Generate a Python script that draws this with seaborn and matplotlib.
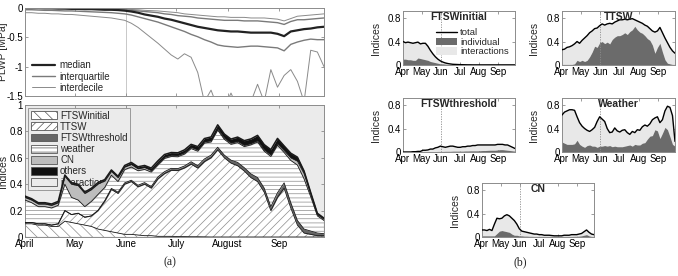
"""Sensitivity indices of the water-stress model: PLWP envelope (a) and total vs. individual indices (b)."""

import matplotlib

matplotlib.use("Agg")
import matplotlib.pyplot as plt
import numpy as np
import pandas as pd
import seaborn as sns
from matplotlib.lines import Line2D
from matplotlib.patches import Patch

# one sample every 4 days from 1 April to 28 September
DATES = pd.date_range("2011-04-01", periods=46, freq="4D")
MONTH_STARTS = pd.date_range("2011-04-01", periods=6, freq="MS")
JUNE = pd.Timestamp("2011-06-01")
MAIN_MONTHS = ["April", "May", "June", "July", "August", "Sep"]
SHORT_MONTHS = ["Apr", "May", "Jun", "Jul", "Aug", "Sep"]

# ---- (a) top: predawn leaf water potential percentiles [MPa]
plwp_p90 = [0, 0, 0, 0, 0, 0, 0, -.005, -.005, -.01, -.01, -.01, -.015, -.015, -.02, -.02,
            -.025, -.03, -.04, -.045, -.05, -.06, -.07, -.08, -.10, -.11, -.12, -.13, -.14, -.15,
            -.15, -.16, -.16, -.16, -.17, -.17, -.17, -.18, -.19, -.22, -.18, -.14, -.13, -.12, -.11, -.10]
plwp_p75 = [0, 0, 0, 0, -.005, -.005, -.01, -.01, -.01, -.015, -.015, -.02, -.02, -.025, -.025, -.03,
            -.04, -.05, -.06, -.07, -.08, -.10, -.11, -.13, -.14, -.15, -.17, -.18, -.19, -.20,
            -.21, -.21, -.21, -.22, -.22, -.22, -.23, -.24, -.25, -.28, -.23, -.20, -.20, -.19, -.18, -.17]
plwp_p50 = [0, 0, 0, -.005, -.005, -.01, -.01, -.015, -.015, -.02, -.02, -.025, -.03, -.03, -.035, -.045,
            -.06, -.08, -.11, -.13, -.15, -.18, -.20, -.23, -.26, -.29, -.32, -.34, -.36, -.38,
            -.39, -.40, -.40, -.41, -.42, -.42, -.42, -.42, -.44, -.48, -.40, -.38, -.36, -.35, -.33, -.32]
plwp_p25 = [-.03, -.03, -.035, -.04, -.04, -.045, -.05, -.05, -.055, -.06, -.065, -.07, -.075, -.08, -.09, -.10,
            -.12, -.15, -.18, -.21, -.24, -.28, -.32, -.36, -.40, -.45, -.49, -.54, -.58, -.63,
            -.65, -.66, -.67, -.66, -.65, -.65, -.66, -.67, -.68, -.73, -.62, -.58, -.55, -.53, -.54, -.54]
plwp_p10 = [-.08, -.08, -.09, -.09, -.10, -.10, -.11, -.11, -.12, -.13, -.14, -.15, -.16, -.17, -.19, -.21,
            -.26, -.33, -.42, -.51, -.60, -.70, -.80, -.87, -.78, -.84, -1.10, -1.60, -1.40, -1.70,
            -1.70, -1.45, -1.70, -1.70, -1.60, -1.30, -1.60, -1.05, -1.35, -1.15, -1.05, -1.25, -1.60, -0.72, -0.75, -1.00]

# ---- (a) bottom: first-order indices (interactions fill the rest up to 1)
s_ftsw_initial = [.10, .10, .09, .09, .08, .08, .12, .11, .10, .09, .08, .06, .05, .04, .03, .02,
                  .02, .015, .01, .01, .005, .005, .005, .003, .003, .002, .002, .001, 0, 0,
                  0, 0, 0, 0, 0, 0, 0, 0, 0, 0, 0, 0, 0, 0, 0, 0]
s_ttsw = [.01, .01, .01, .01, .01, .02, .08, .06, .08, .06, .08, .14, .22, .32, .30, .38,
          .40, .365, .39, .36, .435, .475, .50, .50, .52, .55, .52, .57, .60, .66,
          .60, .56, .54, .50, .45, .42, .34, .20, .30, .37, .22, .09, .03, .02, .01, .01]
s_ftsw_threshold = [0, 0, 0, 0, 0, 0, 0, 0, 0, 0, 0, .003, .005, .008, .01, .01,
                    .01, .012, .012, .012, .015, .015, .015, .015, .015, .018, .018, .02, .02, .02,
                    .02, .022, .025, .025, .028, .03, .03, .03, .035, .04, .04, .035, .03, .025, .02, .015]
s_weather = [.17, .15, .13, .13, .13, .14, .20, .13, .10, .08, .11, .12, .10, .10, .08, .10,
             .10, .11, .10, .11, .09, .10, .09, .09, .09, .10, .11, .12, .10, .13,
             .12, .12, .15, .16, .22, .27, .28, .38, .36, .23, .32, .42, .38, .26, .13, .10]
s_cn = [.02, .02, .02, .02, .02, .02, .06, .10, .11, .10, .09, .08, .05, .03, .03, .02,
        .02, .015, .015, .012, .012, .01, .01, .01, .01, .01, .01, .01, .01, .01,
        .01, .01, .01, .01, .01, .01, .01, .012, .012, .015, .02, .03, .04, .02, .01, .01]
s_others = [.01, .01, .01, .01, .01, .01, .01, .01, .01, .01, .01, .01, .01, .01, .01, .012,
            .015, .015, .015, .018, .02, .02, .02, .02, .022, .022, .025, .025, .028, .03,
            .03, .03, .032, .035, .035, .04, .04, .04, .04, .035, .035, .03, .02, .012, .01, .008]

# ---- (b) total-effect indices
st_ftsw_initial = [.40, .38, .39, .38, .37, .38, .39, .36, .37, .37, .32, .25, .19, .14, .10, .07,
                   .05, .035, .025, .018, .012, .01, .008, .006, .005, .004, .003, .003, .002, .002,
                   .002, .002, .002, .002, .002, .002, .002, .002, .002, .002, .002, .002, .002, .002, .002, .002]
st_ttsw = [.26, .27, .30, .31, .33, .36, .40, .37, .42, .46, .50, .55, .58, .62, .63, .67,
           .70, .68, .70, .71, .70, .73, .75, .77, .77, .78, .77, .78, .79, .77,
           .75, .73, .71, .68, .66, .62, .58, .56, .58, .64, .55, .46, .38, .30, .24, .20]
st_ftsw_threshold = [0, 0, 0, 0, .005, .005, .01, .01, .03, .03, .035, .05, .05, .07, .08, .10,
                     .09, .08, .09, .10, .10, .09, .08, .08, .09, .09, .10, .10, .11, .11,
                     .12, .12, .12, .12, .12, .12, .12, .12, .13, .13, .13, .12, .12, .10, .08, .06]
st_weather = [.63, .68, .70, .72, .72, .71, .60, .50, .44, .40, .37, .35, .38, .42, .52, .60,
              .56, .52, .40, .33, .34, .41, .36, .34, .37, .38, .33, .30, .35, .33,
              .38, .37, .43, .46, .44, .48, .55, .58, .60, .50, .55, .70, .78, .76, .62, .18]
st_cn = [.12, .12, .11, .13, .11, .22, .32, .31, .32, .36, .38, .36, .32, .28, .22, .14,
         .10, .09, .08, .07, .06, .05, .05, .04, .04, .03, .03, .03, .025, .02,
         .02, .02, .02, .03, .03, .03, .04, .04, .04, .05, .06, .09, .12, .08, .05, .04]

LAYER_NAMES = ["FTSWinitial", "TTSW", "FTSWthreshold", "weather", "CN", "others", "interactions"]
LAYER_COLORS = ["white", "white", "#666666", "white", "#bdbdbd", "#111111", "#ebebeb"]
LAYER_HATCHES = ["\\\\\\", "////", None, "----", None, None, None]

PANELS = [
    ("FTSWinitial", s_ftsw_initial, st_ftsw_initial),
    ("TTSW", s_ttsw, st_ttsw),
    ("FTSWthreshold", s_ftsw_threshold, st_ftsw_threshold),
    ("Weather", s_weather, st_weather),
    ("CN", s_cn, st_cn),
]

W, H = 678, 276
INDIVIDUAL = "#6b6b6b"
INTERACT = "#e8e8e8"
HATCH_GRAY = "#8c8c8c"


def px_axes(fig, left, top, right, bottom):
    """Add axes from pixel edges of the original figure."""
    return fig.add_axes([left / W, 1 - bottom / H, (right - left) / W, (bottom - top) / H])


def month_axis(ax, labels):
    ax.set_xlim(DATES[0], DATES[-1])
    ax.set_xticks(MONTH_STARTS)
    ax.set_xticklabels(labels)
    ax.tick_params(direction="in", top=True, right=True, length=2.5, width=0.6, pad=1.5)
    ax.set_xlabel("")


def plot_plwp(ax):
    lines = [
        (plwp_p90, "#8a8a8a", 0.7),
        (plwp_p10, "#8a8a8a", 0.7),
        (plwp_p75, "#7a7a7a", 1.0),
        (plwp_p25, "#7a7a7a", 1.0),
        (plwp_p50, "#222222", 1.6),
    ]
    for values, color, lw in lines:
        sns.lineplot(x=DATES, y=values, ax=ax, color=color, lw=lw)
    ax.axvline(JUNE, color="#c8c8c8", lw=0.7, zorder=0)
    ax.set_ylim(-1.5, 0)
    ax.set_yticks([0, -0.5, -1, -1.5])
    ax.set_yticklabels(["0", "-0.5", "-1", "-1.5"])
    month_axis(ax, [""] * 6)
    ax.set_ylabel("PLWP [MPa]")
    ax.yaxis.set_label_coords(-0.058, 0.5)
    handles = [
        Line2D([], [], color="#222222", lw=1.6),
        Line2D([], [], color="#7a7a7a", lw=1.0),
        Line2D([], [], color="#8a8a8a", lw=0.7),
    ]
    ax.legend(handles, ["median", "interquartile", "interdecile"], loc="lower left",
              bbox_to_anchor=(0.0, -0.04), frameon=False, handlelength=2.4,
              handletextpad=0.4, labelspacing=0.12, borderaxespad=0.3)


def plot_stack(ax):
    layers = [s_ftsw_initial, s_ttsw, s_ftsw_threshold, s_weather, s_cn, s_others]
    stacked = np.vstack(layers)
    ax.set_facecolor(LAYER_COLORS[-1])
    ax.axvline(JUNE, color="#c8c8c8", lw=0.7, zorder=0.5)
    ax.stackplot(DATES, stacked, colors=LAYER_COLORS[:-1], hatch=LAYER_HATCHES[:-1],
                 edgecolor=HATCH_GRAY, linewidth=0.1, zorder=2)
    tops = np.cumsum(stacked, axis=0)
    for k, top in enumerate(tops):
        lw = 1.1 if k == len(tops) - 1 else 0.6
        ax.plot(DATES, top, color="#1a1a1a", lw=lw, zorder=3)
    ax.set_ylim(0, 1)
    ax.set_yticks([0, 0.2, 0.4, 0.6, 0.8, 1])
    ax.set_yticklabels(["0", "0.2", "0.4", "0.6", "0.8", "1"])
    month_axis(ax, MAIN_MONTHS)
    ax.set_ylabel("Indices")
    ax.yaxis.set_label_coords(-0.058, 0.5)
    handles = [Patch(facecolor=c, hatch=h, edgecolor="#555555", lw=0.6)
               for c, h in zip(LAYER_COLORS, LAYER_HATCHES)]
    leg = ax.legend(handles, LAYER_NAMES, loc="upper left", bbox_to_anchor=(0.005, 0.995),
                    fancybox=False, framealpha=1, facecolor=LAYER_COLORS[-1], edgecolor="#8c8c8c",
                    handlelength=2.6, handleheight=0.85, handletextpad=0.35, labelspacing=0.12,
                    borderpad=0.3, borderaxespad=0.2)
    leg.get_frame().set_linewidth(0.6)
    leg.set_zorder(1)


def plot_panel(ax, title, individual, total, show_legend=False):
    ax.fill_between(DATES, individual, total, color=INTERACT, lw=0, zorder=1)
    ax.fill_between(DATES, 0, individual, color=INDIVIDUAL, lw=0, zorder=1.5)
    sns.lineplot(x=DATES, y=total, ax=ax, color="black", lw=1.0, zorder=3)
    ax.axvline(JUNE, color="#8c8c8c", lw=0.6, ls=(0, (1.5, 1.5)), zorder=2)
    ax.set_ylim(0, 0.92)
    ax.set_yticks([0, 0.4, 0.8])
    ax.set_yticklabels(["0", "0.4", "0.8"])
    month_axis(ax, SHORT_MONTHS)
    ax.set_ylabel("Indices")
    ax.yaxis.set_label_coords(-0.2, 0.5)
    ax.text(0.5, 0.98, title, transform=ax.transAxes, ha="center", va="top",
            fontweight="bold", fontsize=7.5, zorder=4)
    if show_legend:
        handles = [
            Line2D([], [], color="black", lw=1.0),
            Patch(facecolor=INDIVIDUAL, lw=0),
            Patch(facecolor=INTERACT, lw=0),
        ]
        ax.legend(handles, ["total", "individual", "interactions"], loc="center right",
                  bbox_to_anchor=(1.02, 0.42), frameon=False, handlelength=2.2,
                  handleheight=0.8, handletextpad=0.3, labelspacing=0.05, fontsize=6.8)


def main():
    sns.set_theme(style="ticks")
    plt.rcParams.update({
        "font.family": ["Liberation Sans", "DejaVu Sans"],
        "font.size": 7,
        "axes.labelsize": 7.5,
        "xtick.labelsize": 7,
        "ytick.labelsize": 7,
        "legend.fontsize": 7,
        "axes.unicode_minus": False,
        "axes.edgecolor": "#8c8c8c",
        "axes.linewidth": 0.7,
        "xtick.color": "#8c8c8c",
        "ytick.color": "#8c8c8c",
        "xtick.labelcolor": "black",
        "ytick.labelcolor": "black",
        "hatch.color": HATCH_GRAY,
        "hatch.linewidth": 0.5,
    })

    fig = plt.figure(figsize=(W / 100, H / 100), dpi=100)

    plot_plwp(px_axes(fig, 25, 8, 324, 96))
    plot_stack(px_axes(fig, 25, 105, 324, 237))

    boxes = [
        (403, 11, 515, 65),
        (562, 11, 675, 65),
        (403, 98, 515, 152),
        (562, 98, 675, 152),
        (482, 183, 594, 237),
    ]
    for k, ((title, individual, total), box) in enumerate(zip(PANELS, boxes)):
        plot_panel(px_axes(fig, *box), title, individual, total, show_legend=(k == 0))

    for label, x in [("(a)", 170), ("(b)", 520)]:
        fig.text(x / W, 1 - 262 / H, label, ha="center", va="center",
                 family="Liberation Serif", fontsize=8.5)

    fig.savefig("out.png", dpi=100)
    plt.close(fig)


if __name__ == "__main__":
    main()
